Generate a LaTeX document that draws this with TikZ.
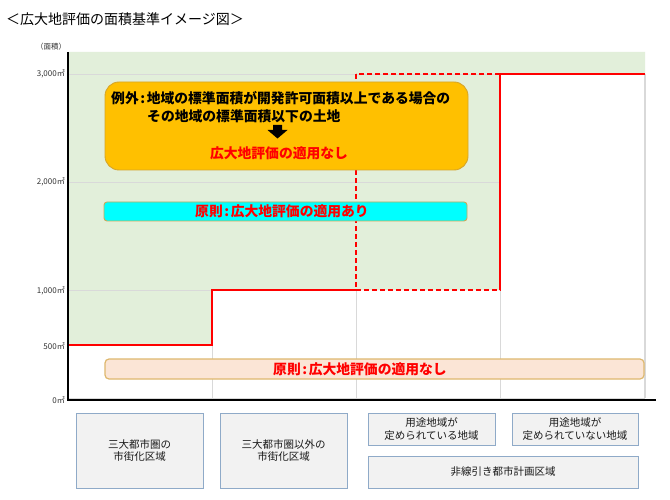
\documentclass[tikz,border=0pt]{standalone}
\usepackage{fontspec}
\setmainfont{Noto Sans CJK JP}
\usetikzlibrary{arrows.meta}
\definecolor{gfill}{RGB}{226,239,218}
\definecolor{gridc}{RGB}{217,217,217}
\definecolor{ofill}{RGB}{255,192,0}
\definecolor{oline}{RGB}{214,165,40}
\definecolor{cyanf}{RGB}{0,255,255}
\definecolor{cyanl}{RGB}{200,170,90}
\definecolor{pfill}{RGB}{251,229,214}
\definecolor{pline}{RGB}{222,184,110}
\definecolor{bfill}{RGB}{242,242,242}
\definecolor{bline}{RGB}{143,170,200}
\definecolor{tred}{RGB}{255,0,0}
\newcommand\jcolon{\makebox[8pt]{:}}
\tikzset{
  grid line/.style={draw=gridc, line width=0.8pt},
  redline/.style={draw=tred, line width=2.5pt},
  reddash/.style={draw=tred, line width=1.8pt, dash pattern=on 5pt off 3pt},
  ylab/.style={anchor=east, inner sep=0pt, font=\fontsize{8}{9}\selectfont, text=black!80},
  btext/.style={inner sep=0pt, font=\fontsize{13.8}{16}\selectfont\bfseries},
  areabox/.style={draw=bline, fill=bfill, line width=0.9pt, minimum width=127pt,
    align=center, font=\fontsize{10.5}{12.5}\selectfont, inner sep=0pt, text=black!90},
}
\begin{document}
\begin{tikzpicture}[x=1pt,y=-1pt]
\useasboundingbox (0,0) rectangle (670,500);
\fill[white] (0,0) rectangle (670,500);
% title
\node[anchor=west, inner sep=0pt, font=\fontsize{14}{16}\selectfont] (title) at (6,19) {＜広大地評価の面積基準イメージ図＞};
% green area above the threshold line
\fill[gfill] (69,52) -- (645,52) -- (645,74) -- (500,74) -- (500,290) -- (212,290)
  -- (212,345) -- (69,345) -- cycle;
% grid lines
\draw[grid line] (69,74) -- (500,74) (69,182) -- (500,182) (69,290) -- (212,290);
\draw[grid line] (212,290) -- (212,398) (356,290) -- (356,398) (500,290) -- (500,398) (69,398) -- (645,398);
\draw[grid line, line width=1.5pt] (645,74) -- (645,398);
% axes
\draw[line width=2.2pt] (68,52) -- (68,400) -- (656,400);
% axis labels
\node[inner sep=0pt, font=\fontsize{7.5}{9}\selectfont, text=black!80] (yunit) at (51,47) {（面積）};
\node[ylab] (l3000) at (65,74) {3,000㎡};
\node[ylab] (l2000) at (65,182) {2,000㎡};
\node[ylab] (l1000) at (65,291) {1,000㎡};
\node[ylab] (l500) at (65,346) {500㎡};
\node[ylab] (l0) at (65,400) {0㎡};
% threshold line
\draw[reddash] (356,74) rectangle (500,290);
\draw[redline] (69,345) -- (212,345) -- (212,290) -- (356,290);
\draw[redline] (500,290) -- (500,74) -- (645,74);
% exception box
\draw[fill=ofill, draw=oline, line width=0.9pt, rounded corners=14pt] (105,82) rectangle (468,170);
\node[btext, anchor=west] (ex1) at (111,98.5) {例外\jcolon 地域の標準面積が開発許可面積以上である場合の};
\node[btext, anchor=west] (ex2) at (147,116) {その地域の標準面積以下の土地};
\fill[black] (273,125) -- (282,125) -- (282,130) -- (287.5,130) -- (277.5,138.5)
  -- (267.5,130) -- (273,130) -- cycle;
\node[btext, text=tred] (ex3) at (279,153) {広大地評価の適用なし};
% principle bars
\draw[fill=cyanf, draw=cyanl, line width=0.9pt, rounded corners=3pt] (104,202) rectangle (467,221);
\node[btext, text=tred] (p1) at (282,211.5) {原則\jcolon 広大地評価の適用あり};
\draw[fill=pfill, draw=pline, line width=1.2pt, rounded corners=4pt] (105,359) rectangle (644,379);
\node[btext, text=tred] (p2) at (360,369) {原則\jcolon 広大地評価の適用なし};
% area category boxes
\node[areabox, minimum height=75pt] (b1) at (139.5,450.5) {三大都市圏の\\市街化区域};
\node[areabox, minimum height=75pt] (b2) at (283.5,450.5) {三大都市圏以外の\\市街化区域};
\node[areabox, minimum height=32pt] (b3) at (431.5,429) {用途地域が\\定められている地域};
\node[areabox, minimum height=32pt, minimum width=126pt] (b4) at (575,429) {用途地域が\\定められていない地域};
\node[areabox, minimum height=32pt, minimum width=270pt] (b5) at (503,472) {非線引き都市計画区域};
\end{tikzpicture}
\end{document}
